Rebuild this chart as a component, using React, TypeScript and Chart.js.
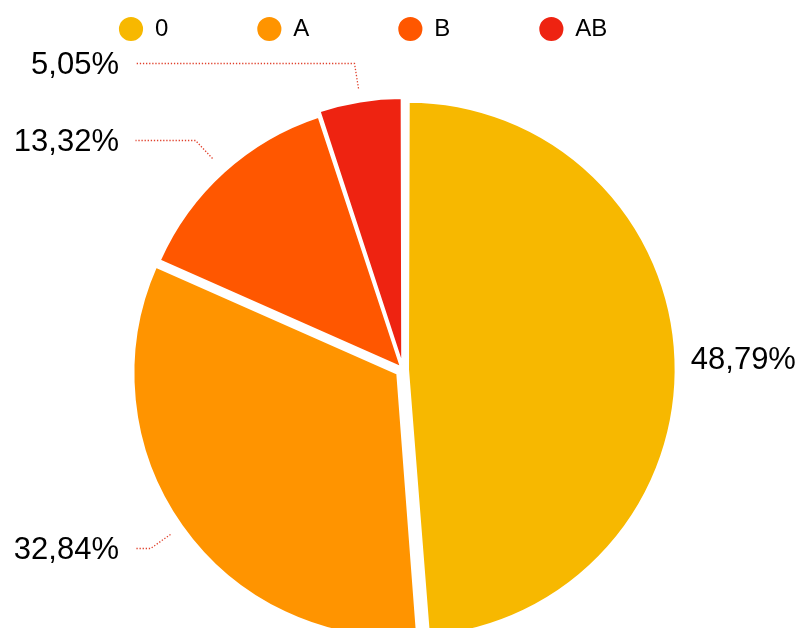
import React, { useEffect, useRef } from "react";
import { Chart, registerables } from "chart.js";

Chart.register(...registerables);

const categories = ["0", "A", "B", "AB"];
const values = [48.79, 32.84, 13.32, 5.05];
const colors = ["#F7B800", "#FF9400", "#FF5700", "#EE2311"];
const sliceOffsets = [20, 28, 12, 20];

const FONT = "'Liberation Sans', Arial, Helvetica, sans-serif";

const outerLabels = {
  id: "outerLabels",
  afterDatasetsDraw(chart: any) {
    const ctx = chart.ctx;
    const meta = chart.getDatasetMeta(0);
    const data = chart.data.datasets[0].data as number[];
    const total = data.reduce((a, b) => a + b, 0);
    ctx.save();
    ctx.font = `31px ${FONT}`;
    ctx.fillStyle = "#000";
    ctx.textBaseline = "middle";
    meta.data.forEach((arc: any, i: number) => {
      const { x, y, startAngle, endAngle, outerRadius } = arc.getProps(
        ["x", "y", "startAngle", "endAngle", "outerRadius"],
        true
      );
      const mid = (startAngle + endAngle) / 2;
      const cos = Math.cos(mid);
      const sin = Math.sin(mid);
      const r1 = outerRadius + 22;
      const r2 = outerRadius + 47;
      const text = ((data[i] / total) * 100).toFixed(2).replace(".", ",") + "%";
      if (cos > 0) {
        ctx.textAlign = "left";
        ctx.fillText(text, x + cos * r1 + 3, y + sin * r1 + 2);
      } else {
        const p1x = Math.round(x + cos * r1) + 0.5;
        const p1y = Math.round(y + sin * r1) + 0.5;
        const p2x = Math.round(x + cos * r2) + 0.5;
        const p2y = Math.round(y + sin * r2) + 0.5;
        const lineEnd = Math.round(x - outerRadius - 5) + 0.5;
        ctx.save();
        ctx.strokeStyle = "#E0412C";
        ctx.lineWidth = 1.3;
        ctx.setLineDash([1.3, 1.8]);
        ctx.beginPath();
        ctx.moveTo(p1x, p1y);
        ctx.lineTo(p2x, p2y);
        ctx.lineTo(lineEnd, p2y);
        ctx.stroke();
        ctx.restore();
        ctx.textAlign = "right";
        ctx.fillText(text, x - outerRadius - 21, p2y + 2);
      }
    });
    ctx.restore();
  },
};

export default function App() {
  const ref = useRef<HTMLCanvasElement | null>(null);
  useEffect(() => {
    if (!ref.current) return;
    const chart = new Chart(ref.current, {
      type: "pie",
      data: {
        labels: categories,
        datasets: [
          {
            data: values,
            backgroundColor: colors,
            borderColor: "#ffffff",
            borderWidth: 2,
            offset: sliceOffsets,
            radius: 263,
            clip: false,
          } as any,
        ],
      },
      options: {
        responsive: true,
        maintainAspectRatio: false,
        animation: false,
        radius: 263,
        events: [],
        layout: { padding: { top: -72, left: 30, right: 28, bottom: 12 } },
        plugins: {
          legend: {
            position: "top",
            align: "start",
            labels: {
              usePointStyle: true,
              pointStyle: "circle",
              boxWidth: 24,
              boxHeight: 18.5,
              padding: 89,
              color: "#000",
              font: { size: 24, family: FONT },
            },
          },
          tooltip: { enabled: false },
        },
      } as any,
      plugins: [outerLabels],
    });
    return () => chart.destroy();
  }, []);
  return (
    <div
      style={{
        position: "fixed",
        left: 0,
        top: 0,
        width: 804,
        height: 628,
        overflow: "hidden",
        background: "#fff",
      }}
    >
      <div style={{ position: "relative", width: 804, height: 700 }}>
        <canvas ref={ref} />
      </div>
    </div>
  );
}
